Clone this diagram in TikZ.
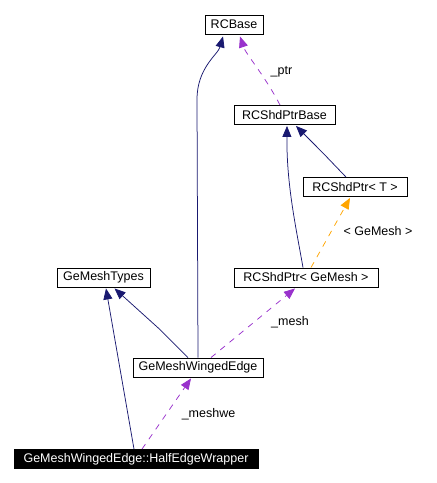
\documentclass[tikz,border=0pt]{standalone}
\usepackage{fontspec}
\setmainfont{Liberation Sans}
\usetikzlibrary{arrows.meta}
\definecolor{navyedge}{RGB}{25,25,112}
\definecolor{purpedge}{RGB}{153,50,204}
\definecolor{orangeedge}{RGB}{255,165,0}
\tikzset{
  cls/.style={draw=black, line width=0.9pt, fill=white, minimum height=19pt, inner xsep=0pt, inner ysep=0pt, font=\fontsize{12.5}{14}\selectfont},
  curcls/.style={cls, fill=black, text=white},
  inherit/.style={draw=navyedge, line width=0.75pt, -{Triangle[length=11pt,width=9pt]}},
  usage/.style={draw=purpedge, line width=0.75pt, dash pattern=on 6pt off 6pt, -{Triangle[length=11pt,width=9pt]}},
  templ/.style={draw=orangeedge, line width=0.75pt, dash pattern=on 6pt off 6pt, -{Triangle[length=11pt,width=9pt]}},
  elabel/.style={font=\fontsize{12.5}{14}\selectfont, inner sep=0pt}
}
\begin{document}
\begin{tikzpicture}[x=1pt,y=-1pt]
\useasboundingbox (0,0) rectangle (437,483);
\node[cls, minimum width=58pt] (rcb) at (234,24.5) {RCBase};
\node[cls, minimum width=101pt] (spb) at (284.5,115) {RCShdPtrBase};
\node[cls, minimum width=104pt] (spt) at (355,187) {RCShdPtr< T >};
\node[cls, minimum width=144pt] (spg) at (306,277.5) {RCShdPtr< GeMesh >};
\node[cls, minimum width=93pt] (gmt) at (103.5,277.5) {GeMeshTypes};
\node[cls, minimum width=130pt] (gwe) at (198,367.5) {GeMeshWingedEdge};
\node[curcls, minimum width=244pt] (hew) at (136,459) {GeMeshWingedEdge::HalfEdgeWrapper};

% inheritance
\draw[inherit] (gwe.north) -- ([xshift=-1pt,yshift=258pt]gwe.north) .. controls ([xshift=-1pt,yshift=290pt]gwe.north) and ([xshift=-16pt,yshift=-20pt]rcb.south) .. ([xshift=-11pt,yshift=-2pt]rcb.south);
\draw[inherit] ([xshift=-3pt]spg.north) .. controls ([xshift=-10pt,yshift=40pt]spg.north) and ([xshift=2pt,yshift=-60pt]spb.south) .. ([xshift=2.5pt,yshift=-1pt]spb.south);
\draw[inherit] ([xshift=-9pt]spt.north) -- ([xshift=-32pt,yshift=24pt]spt.north) -- ([xshift=11.5pt,yshift=-1pt]spb.south);
\draw[inherit] ([xshift=-10pt]gwe.north) -- ([xshift=-38pt,yshift=28pt]gwe.north) -- ([xshift=11pt,yshift=-1pt]gmt.south);
\draw[inherit] ([xshift=-2pt]hew.north) -- ([xshift=2.5pt,yshift=-1pt]gmt.south);

% usage
\draw[usage] ([xshift=-4.5pt]spb.north) .. controls ([xshift=-20pt,yshift=30pt]spb.north) and ([xshift=12pt,yshift=-20pt]rcb.south) .. ([xshift=6pt,yshift=-2pt]rcb.south);
\node[elabel] (lptr) at (281.5,72) {\_ptr};
\draw[usage] ([xshift=13pt]gwe.north) -- ([xshift=-11pt,yshift=-1pt]spg.south);
\node[elabel] (lmesh) at (290,322) {\_mesh};
\draw[usage] ([xshift=6pt]hew.north) -- ([xshift=-7pt,yshift=-1pt]gwe.south);
\node[elabel] (lmeshwe) at (208.5,414) {\_meshwe};

% template
\draw[templ] ([xshift=5pt]spg.north) -- ([xshift=-5pt,yshift=-1pt]spt.south);
\node[elabel] (lgm) at (378,231) {< GeMesh >};
\end{tikzpicture}
\end{document}
